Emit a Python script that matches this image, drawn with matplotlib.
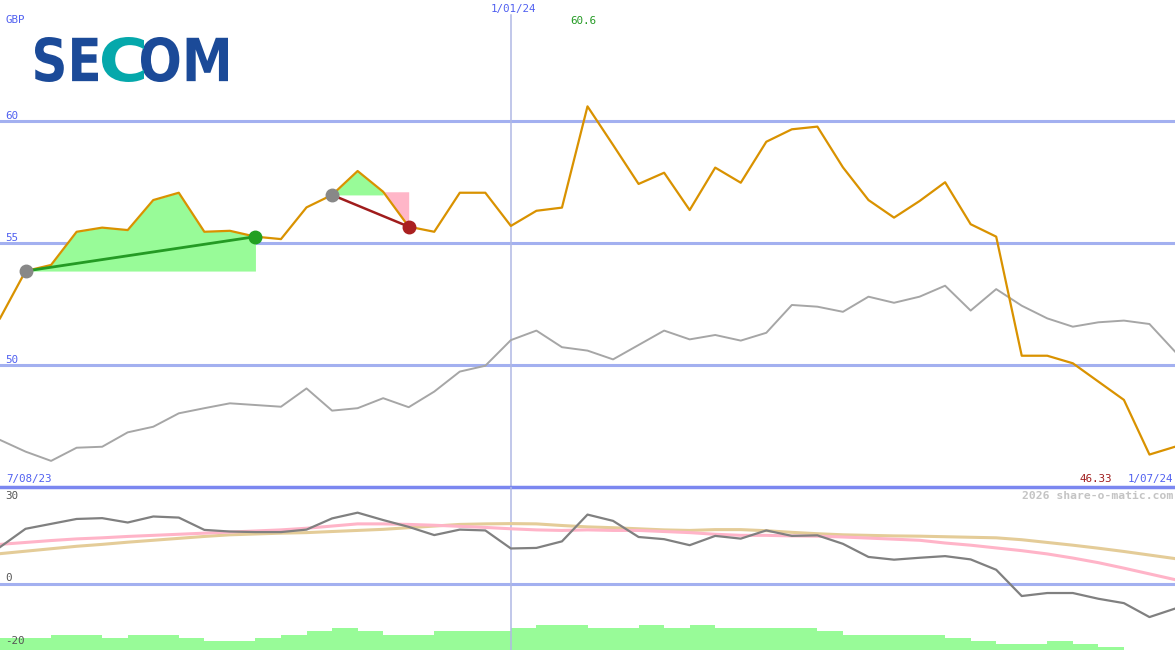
import matplotlib
matplotlib.use("Agg")
import matplotlib.pyplot as plt
import numpy as np
from matplotlib.textpath import TextPath
from matplotlib.font_manager import FontProperties
from matplotlib.patches import PathPatch
from matplotlib.transforms import Affine2D

# weekly closes, 7/08/23 .. 1/07/24 (GBP)
price = [51.91, 53.85, 54.10, 55.46, 55.63, 55.53, 56.76, 57.06, 55.46, 55.50,
         55.26, 55.16, 56.46, 56.97, 57.95, 57.10, 55.67, 55.46, 57.06, 57.06,
         55.70, 56.32, 56.45, 60.60, 59.02, 57.42, 57.88, 56.35, 58.09, 57.47,
         59.15, 59.66, 59.77, 58.10, 56.76, 56.04, 56.72, 57.49, 55.77, 55.26,
         50.38, 50.38, 50.07, 49.32, 48.57, 46.33, 46.65]

# comparison index rebased to price scale
index_line = [46.93, 46.45, 46.07, 46.61, 46.65, 47.24, 47.47, 48.02, 48.23, 48.43,
              48.36, 48.29, 49.04, 48.13, 48.23, 48.64, 48.27, 48.91, 49.73, 49.97,
              51.02, 51.41, 50.73, 50.59, 50.23, 50.82, 51.41, 51.05, 51.23, 51.00,
              51.32, 52.46, 52.39, 52.18, 52.80, 52.55, 52.80, 53.25, 52.23, 53.11,
              52.43, 51.91, 51.57, 51.75, 51.82, 51.68, 50.55]

# lower panel oscillator and its two averages
osc = [13.5, 20.2, 22.0, 23.8, 24.1, 22.5, 24.7, 24.3, 19.8, 19.2,
       19.0, 19.0, 19.9, 24.0, 26.1, 23.4, 20.9, 17.9, 19.9, 19.6,
       13.0, 13.2, 15.6, 25.4, 23.1, 17.2, 16.4, 14.2, 17.6, 16.6,
       19.6, 17.6, 17.8, 14.7, 9.9, 8.9, 9.6, 10.2, 9.0, 5.2,
       -4.4, -3.3, -3.3, -5.4, -7.0, -12.1, -9.0]
osc_avg1 = [14.5, 15.2, 15.9, 16.5, 16.9, 17.4, 17.8, 18.2, 18.6, 19.0,
            19.4, 19.8, 20.4, 21.2, 22.0, 22.0, 21.8, 21.5, 21.1, 20.7,
            20.2, 19.8, 19.6, 19.8, 19.6, 19.6, 19.2, 18.8, 18.2, 17.8,
            17.8, 17.6, 17.5, 17.2, 16.8, 16.4, 16.0, 15.0, 14.2, 13.2,
            12.2, 11.0, 9.5, 7.8, 5.8, 3.7, 1.6]
osc_avg2 = [11.1, 12.0, 12.9, 13.8, 14.5, 15.3, 16.0, 16.7, 17.4, 18.0,
            18.3, 18.6, 18.8, 19.2, 19.6, 20.0, 20.6, 21.2, 21.8, 22.0,
            22.1, 22.0, 21.4, 20.9, 20.6, 20.2, 19.8, 19.6, 19.9, 19.9,
            19.5, 18.9, 18.4, 18.0, 17.8, 17.6, 17.5, 17.3, 17.1, 16.9,
            16.2, 15.2, 14.2, 13.1, 11.9, 10.6, 9.3]

# weekly volume bars
volume = [4, 4, 5, 5, 4, 5, 5, 4, 3, 3, 4, 5, 6, 7, 6, 5, 5, 6, 6, 6, 7, 8, 8,
          7, 7, 8, 7, 8, 7, 7, 7, 7, 6, 5, 5, 5, 5, 4, 3, 2, 2, 3, 2, 1, 0, 0]

start_label = "7/08/23"
mid_label = "1/01/24"
end_label = "1/07/24"
mid_idx = 20
# trade signals: (start, end)
up_trade = (1, 10)
down_trade = (13, 16)

W, H = 1175, 650
x = np.arange(len(price))
mono = "DejaVu Sans Mono"
grid_c = "#a3b0f0"
blue_txt = "#5060f0"


def px(xp, yp):
    return xp / W, 1 - yp / H


fig = plt.figure(figsize=(W / 100, H / 100), dpi=100)
fig.patch.set_facecolor("white")

# main price panel
ax = fig.add_axes([0, 163 / H, 1, 487 / H])
ax.set_xlim(0, len(price) - 1)
ax.set_ylim(45, 45 + 487 / 24.4)
ax.axis("off")
for lvl in [50, 55, 60]:
    ax.axhline(lvl, color=grid_c, lw=2.2, zorder=1)
ax.axhline(45, color="#7b87f0", lw=2.5, zorder=5, clip_on=False)
ax.axvline(mid_idx, ymax=(487 - 15) / 487, color="#b0b8e4", lw=1.1, zorder=1)

pr = np.array(price)
a, b = up_trade
ax.fill_between(x[a:b + 1], pr[a], pr[a:b + 1], color="#98fb98", lw=0, zorder=2)
c, d = down_trade
ax.fill_between(x[c:d], pr[c], pr[c:d], where=pr[c:d] >= pr[c],
                interpolate=True, color="#98fb98", lw=0, zorder=2)
ax.fill_between(x[d - 1:d + 1], pr[d - 1], pr[d - 1:d + 1], color="#ffb6c8", lw=0, zorder=2)

ax.plot(x, index_line, color="#a6a6a6", lw=1.4, zorder=3)
ax.plot(x, price, color="#d99200", lw=1.6, zorder=4)
ax.plot([a, b], [pr[a], pr[b]], color="#249a24", lw=2, zorder=5)
ax.plot([c, d], [pr[c], pr[d]], color="#a01c1c", lw=1.8, zorder=5)
ax.plot([a, c], [pr[a], pr[c]], "o", color="#888888", ms=9, zorder=6, ls="none")
ax.plot([b], [pr[b]], "o", color="#22a022", ms=9, zorder=6)
ax.plot([d], [pr[d]], "o", color="#aa2020", ms=9, zorder=6)

# lower oscillator panel
ax2 = fig.add_axes([0, 0, 1, 163 / H])
ax2.set_xlim(0, len(price) - 1)
ax2.set_ylim(-66 / 2.733, (163 - 66) / 2.733)
ax2.axis("off")
ax2.axhline(0, color=grid_c, lw=2.2, zorder=1)
ax2.axvline(mid_idx, color="#b0b8e4", lw=1.1, zorder=1)

axv = ax2.twinx()
axv.set_ylim(0, 163 / 3.1)
axv.axis("off")
axv.bar(np.arange(len(volume)), volume, width=1.0, align="edge",
        color="#98fb98", lw=0, zorder=1)
ax2.set_zorder(axv.get_zorder() + 1)
ax2.patch.set_visible(False)

ax2.plot(x, osc_avg2, color="#e4cc98", lw=2.2, zorder=3)
ax2.plot(x, osc_avg1, color="#ffb4c8", lw=2.2, zorder=3)
ax2.plot(x, osc, color="#808080", lw=1.6, zorder=4)

# texts
def t(xp, yp, s, color, ha="left", size=7.8, weight="normal"):
    fig.text(*px(xp, yp), s, color=color, ha=ha, va="center",
             family=mono, fontsize=size, weight=weight)

t(5, 20, "GBP", blue_txt)
t(5, 116, "60", blue_txt)
t(5, 238, "55", blue_txt)
t(5, 360, "50", blue_txt)
t(513, 9, mid_label, blue_txt, ha="center")
t(570, 21, "%.1f" % max(price), "#249a24")
t(6, 479, start_label, blue_txt)
t(1112, 479, "%.2f" % min(price), "#a01c1c", ha="right")
t(1173, 479, end_label, blue_txt, ha="right")
t(1173, 496, "2026 share-o-matic.com", "#c4c4c4", ha="right", size=8.2, weight="bold")
t(5, 496, "30", "#555555")
t(5, 578, "0", "#555555")
t(5, 641, "-20", "#555555")

# logo
lax = fig.add_axes([0, 0, 1, 1])
lax.set_xlim(0, W)
lax.set_ylim(H, 0)
lax.axis("off")
lax.patch.set_visible(False)
fp = FontProperties(family="DejaVu Sans", weight="bold")


def logo_part(s, color, x0, x1, y0, y1):
    tp = TextPath((0, 0), s, size=100, prop=fp)
    e = tp.get_extents()
    tr = (Affine2D().translate(-e.x0, -e.y0)
          .scale((x1 - x0) / e.width, -(y1 - y0) / e.height)
          .translate(x0, y1))
    lax.add_patch(PathPatch(tr.transform_path(tp), fc=color, ec="none"))


logo_part("SE", "#1b4a98", 35, 98, 37, 82)
logo_part("OM", "#1b4a98", 141, 228, 37, 82)
logo_part("C", "#05a8ab", 102, 144, 37, 82)

fig.savefig("out.png", dpi=100)
